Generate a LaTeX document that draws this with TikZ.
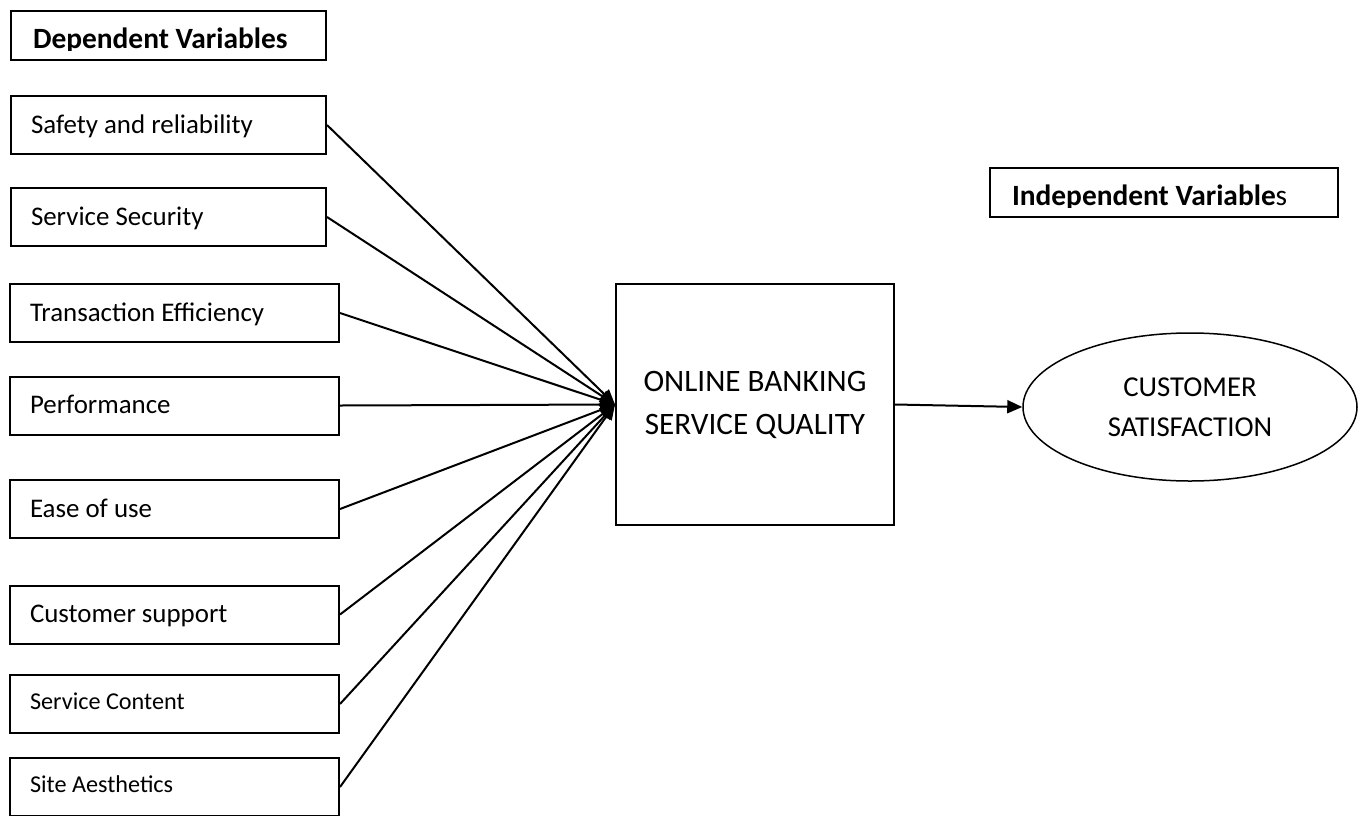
\documentclass[tikz,border=0pt]{standalone}
\usepackage{fontspec}
\setmainfont{Carlito}
\usetikzlibrary{arrows.meta,shapes.geometric}

\begin{document}
\begin{tikzpicture}[x=1pt,y=-1pt,
          every node/.style={font=\fontsize{26.9}{32}\selectfont},
          varbox/.style={draw,line width=2pt,minimum height=58pt,inner xsep=20pt,
            text width=#1,align=flush left,text height=16pt,text depth=0pt},
          smallvar/.style={font=\fontsize{24.2}{29}\selectfont,text height=10pt},
          hdrbox/.style={draw,line width=2pt,minimum height=49pt,inner xsep=22pt,
            text width=#1,align=flush left,text height=26pt,text depth=0pt,
            font=\fontsize{29.4}{34}\selectfont},
          qualbox/.style={draw,line width=2pt,minimum width=278pt,minimum height=241pt,
            align=center,font=\fontsize{31.2}{43}\selectfont},
          outcome/.style={ellipse,draw,line width=1.5pt,minimum width=334pt,
            minimum height=148pt,inner sep=0pt,align=center,
            font=\fontsize{28.8}{40}\selectfont},
          link/.style={line width=2pt,-{Triangle[length=15pt,width=13pt]}}]
          \useasboundingbox (0,0) rectangle (1366,815);
          % headers (text cut off at the bottom as in the source)
          \begin{scope}
            \clip (0,0) rectangle (1366,50) (0,58) rectangle (1366,207)
              (0,215) rectangle (1366,815)
              (0,50) rectangle (13,58) (324,50) rectangle (1366,58)
              (0,207) rectangle (992,215) (1336,207) rectangle (1366,215);
            \node[hdrbox=271pt] (dep) at (168.5,35) {\textbf{Dependent Variables}};
            \node[hdrbox=304pt] (indep) at (1164,192.5) {\textbf{Independent Variable}s};
          \end{scope}
          % factors
          \node[varbox=275pt] (safety) at (168.5,125) {Safety and reliability};
          \node[varbox=275pt] (security) at (168.5,217) {Service Security};
          \node[varbox=289pt] (trans) at (174.5,313) {Transaction Efficiency};
          \node[varbox=289pt] (perf) at (174.5,405.5) {Performance};
          \node[varbox=289pt] (ease) at (174.5,509) {Ease of use};
          \node[varbox=289pt] (support) at (174.5,614.5) {Customer support};
          \node[varbox=289pt,smallvar] (content) at (174.5,704) {Service Content};
          \node[varbox=289pt,smallvar] (aesth) at (174.5,787) {Site Aesthetics};
          % centre and outcome
          \node[qualbox] (obsq) at (755,404.5) {ONLINE BANKING\\SERVICE QUALITY};
          \node[outcome] (csat) at (1190,407) {CUSTOMER\\SATISFACTION};
          \draw[link] (safety.east) -- (obsq.west);
          \draw[link] (security.east) -- (obsq.west);
          \draw[link] (trans.east) -- (obsq.west);
          \draw[link] (perf.east) -- (obsq.west);
          \draw[link] (ease.east) -- (obsq.west);
          \draw[link] (support.east) -- (obsq.west);
          \draw[link] (content.east) -- (obsq.west);
          \draw[link] (aesth.east) -- (obsq.west);
          \draw[link] (obsq.east) -- (csat.west);
        \end{tikzpicture}
\end{document}
